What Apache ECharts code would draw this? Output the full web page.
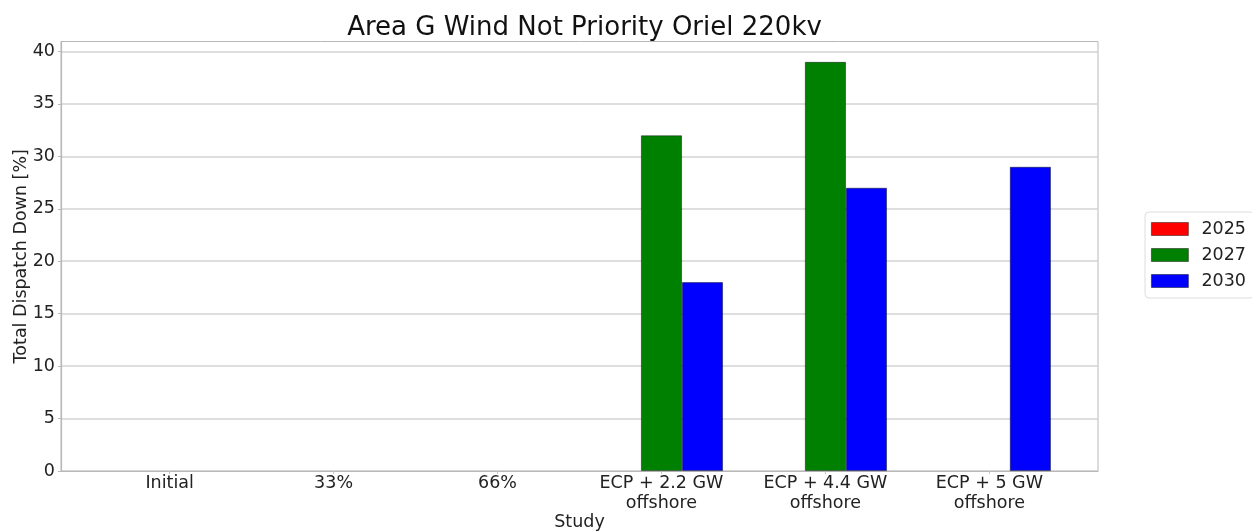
<!DOCTYPE html>
<html>
<head>
<meta charset="utf-8">
<script src="https://cdn.jsdelivr.net/npm/echarts@6/dist/echarts.min.js"></script>
<style>
  html, body { margin: 0; padding: 0; background: #fff; }
  #chart { width: 1252px; height: 531px; }
</style>
</head>
<body>
<div id="chart"></div>
<script>
// Study scenarios along the x axis
const studies = ['Initial', '33%', '66%', 'ECP + 2.2 GW\noffshore', 'ECP + 4.4 GW\noffshore', 'ECP + 5 GW\noffshore'];
// Total dispatch down [%] per study year
const years = ['2025', '2027', '2030'];
const values2025 = [0, 0, 0, 0, 0, 0];
const values2027 = [0, 0, 0, 32, 39, 0];
const values2030 = [0, 0, 0, 18, 27, 29];
const yTicks = [0, 5, 10, 15, 20, 25, 30, 35, 40];

const colors = ['#ff0000', '#008000', '#0000ff'];
const seriesValues = [values2025, values2027, values2030];

const chart = echarts.init(document.getElementById('chart'), null, { renderer: 'canvas' });

const font = 'DejaVu Sans';
const fs = 17.5;
const gridLeft = 61, gridRight = 154;
const plotWidth = 1252 - gridLeft - gridRight;
const xMin = -0.6625, xMax = 5.6625;
const barPx = plotWidth / (xMax - xMin) * 0.25;
const edge = 'rgba(0,0,0,0.55)';

chart.setOption({
  animation: false,
  backgroundColor: '#ffffff',
  title: {
    text: 'Area G Wind Not Priority Oriel 220kv',
    left: gridLeft + plotWidth / 2,
    textAlign: 'center',
    top: 10,
    textStyle: { fontFamily: font, fontSize: 26, fontWeight: 'normal', color: '#111' }
  },
  legend: {
    orient: 'vertical',
    left: 1145,
    top: 212,
    data: years,
    icon: 'rect',
    itemWidth: 37,
    itemHeight: 13,
    itemGap: 8,
    padding: [8, 8, 8, 6],
    borderColor: '#dddddd',
    borderWidth: 1,
    borderRadius: 4,
    textStyle: { fontFamily: font, fontSize: fs, color: '#222', padding: [0, 0, 0, 8] },
    itemStyle: { borderColor: edge, borderWidth: 0.8 }
  },
  grid: {
    left: gridLeft,
    right: gridRight,
    top: 41.5,
    bottom: 60,
    outerBoundsMode: 'none',
    containLabel: false,
    show: true,
    borderColor: '#b8b8b8',
    borderWidth: 1
  },
  xAxis: {
    type: 'value',
    min: xMin,
    max: xMax,
    name: 'Study',
    nameLocation: 'middle',
    nameGap: 42,
    nameMoveOverlap: false,
    nameTextStyle: { fontFamily: font, fontSize: fs, color: '#222' },
    splitLine: { show: false },
    axisLine: { show: true, onZero: false, lineStyle: { color: '#b8b8b8', width: 1.2 } },
    axisTick: { show: true, length: 3, lineStyle: { color: '#c8c8c8' }, customValues: [0, 1, 2, 3, 4, 5] },
    axisLabel: {
      customValues: [0, 1, 2, 3, 4, 5],
      formatter: v => studies[Math.round(v)],
      fontFamily: font,
      fontSize: fs,
      color: '#222',
      lineHeight: 20,
      margin: 2
    }
  },
  yAxis: {
    type: 'value',
    min: 0,
    max: 40.95,
    interval: 5,
    name: 'Total Dispatch Down [%]',
    nameLocation: 'middle',
    nameGap: 31,
    nameMoveOverlap: false,
    nameTextStyle: { fontFamily: font, fontSize: fs, color: '#222' },
    axisLine: { show: true, onZero: false, lineStyle: { color: '#b8b8b8', width: 1.2 } },
    axisTick: { show: true, length: 3, lineStyle: { color: '#b8b8b8' }, customValues: yTicks },
    axisLabel: {
      customValues: yTicks,
      fontFamily: font,
      fontSize: fs,
      color: '#222',
      margin: 6
    },
    splitLine: { show: true, lineStyle: { color: '#d3d3d3', width: 1.5 } }
  },
  series: years.map((y, i) => ({
    name: y,
    type: 'bar',
    barWidth: barPx,
    barGap: '0%',
    itemStyle: { color: colors[i], borderColor: edge, borderWidth: 0.8 },
    data: seriesValues[i].map((v, k) => ({
      value: [k, v],
      itemStyle: v === 0 ? { borderWidth: 0 } : undefined
    }))
  }))
});
</script>
</body>
</html>
